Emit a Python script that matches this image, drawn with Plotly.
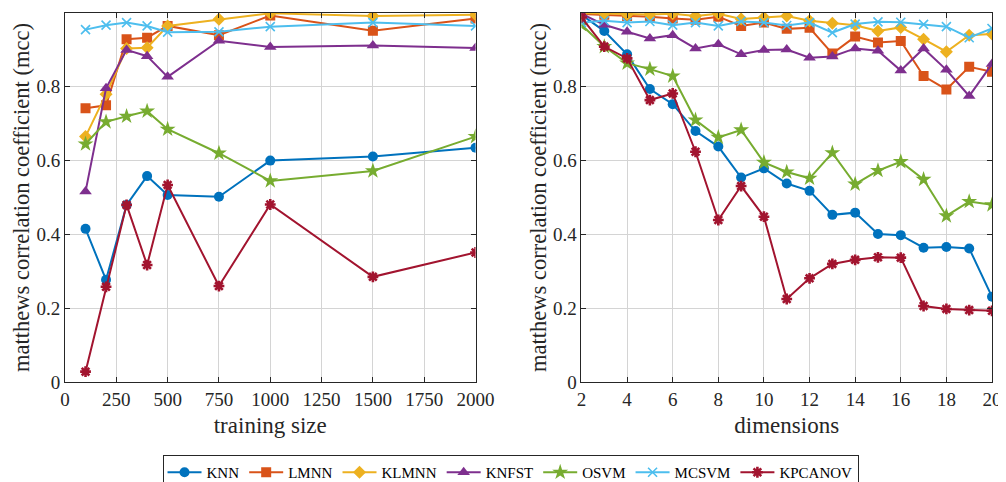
import plotly.graph_objects as go
from plotly.subplots import make_subplots

names = ["KNN", "LMNN", "KLMNN", "KNFST", "OSVM", "MCSVM", "KPCANOV"]
colors = ["#0072BD", "#D95319", "#EDB120", "#7E2F8E", "#77AC30", "#4DBEEE", "#A2142F"]
symbols = ["circle", "square", "diamond", "triangle-up", "star", "x-thin-open", "asterisk-open"]

train_sizes = [100, 200, 300, 400, 500, 750, 1000, 1500, 2000]
left_vals = {
    "KNN":     [0.415, 0.277, 0.480, 0.558, 0.507, 0.502, 0.600, 0.611, 0.635],
    "LMNN":    [0.742, 0.750, 0.929, 0.933, 0.965, 0.940, 0.993, 0.952, 0.985],
    "KLMNN":   [0.665, 0.780, 0.904, 0.906, 0.965, 0.983, 0.999, 0.992, 0.995],
    "KNFST":   [0.516, 0.796, 0.900, 0.883, 0.827, 0.925, 0.908, 0.912, 0.905],
    "OSVM":    [0.645, 0.705, 0.720, 0.734, 0.685, 0.620, 0.545, 0.572, 0.665],
    "MCSVM":   [0.955, 0.967, 0.974, 0.965, 0.948, 0.949, 0.963, 0.974, 0.965],
    "KPCANOV": [0.028, 0.258, 0.480, 0.317, 0.534, 0.260, 0.481, 0.285, 0.351],
}

dims = list(range(2, 21))
right_vals = {
    "KNN":     [0.995, 0.951, 0.888, 0.794, 0.753, 0.680, 0.638, 0.554, 0.579, 0.538,
                0.518, 0.453, 0.459, 0.401, 0.398, 0.364, 0.366, 0.362, 0.231],
    "LMNN":    [0.997, 0.995, 0.992, 0.990, 0.985, 0.982, 0.990, 0.965, 0.974, 0.957,
                0.960, 0.890, 0.936, 0.920, 0.924, 0.829, 0.793, 0.854, 0.841],
    "KLMNN":   [1.000, 0.999, 0.996, 0.996, 0.998, 0.992, 0.998, 0.984, 0.988, 0.992,
                0.979, 0.972, 0.967, 0.951, 0.961, 0.929, 0.895, 0.940, 0.943],
    "KNFST":   [0.998, 0.968, 0.949, 0.931, 0.940, 0.904, 0.915, 0.888, 0.900, 0.901,
                0.879, 0.882, 0.904, 0.898, 0.844, 0.904, 0.846, 0.775, 0.862],
    "OSVM":    [0.968, 0.909, 0.864, 0.848, 0.829, 0.710, 0.663, 0.683, 0.595, 0.569,
                0.552, 0.621, 0.536, 0.573, 0.597, 0.549, 0.450, 0.489, 0.480],
    "MCSVM":   [0.974, 0.979, 0.974, 0.977, 0.967, 0.974, 0.965, 0.977, 0.974, 0.966,
                0.974, 0.947, 0.970, 0.976, 0.975, 0.969, 0.963, 0.933, 0.958],
    "KPCANOV": [0.988, 0.909, 0.877, 0.764, 0.782, 0.624, 0.439, 0.531, 0.448, 0.225,
                0.281, 0.320, 0.331, 0.338, 0.337, 0.206, 0.198, 0.195, 0.193],
}

left_xticks = [0, 250, 500, 750, 1000, 1250, 1500, 1750, 2000]
right_xticks = [2, 4, 6, 8, 10, 12, 14, 16, 18, 20]
yticks = [0, 0.2, 0.4, 0.6, 0.8, 1]
ytick_text = ["0", "0.2", "0.4", "0.6", "0.8", "1"]

SERIF = "Liberation Serif, Times New Roman, serif"
TXT = "#262626"

fig = make_subplots(rows=1, cols=2, horizontal_spacing=0.1143)

def marker_for(i):
    sym = symbols[i]
    if sym == "x-thin-open":
        return dict(symbol=sym, size=9, color=colors[i], line=dict(color=colors[i], width=1.6))
    if sym == "asterisk-open":
        return dict(symbol=sym, size=9, color=colors[i], line=dict(color=colors[i], width=2.6))
    if sym == "star":
        return dict(symbol=sym, size=12, color=colors[i], line=dict(width=0))
    if sym == "triangle-up":
        return dict(symbol=sym, size=11, color=colors[i], line=dict(width=0))
    return dict(symbol=sym, size=10, color=colors[i], line=dict(width=0))

for i, n in enumerate(names):
    fig.add_trace(go.Scatter(x=train_sizes, y=left_vals[n], mode="lines+markers", name=n,
                             line=dict(color=colors[i], width=2), marker=marker_for(i),
                             legendgroup=n, showlegend=True), row=1, col=1)
    fig.add_trace(go.Scatter(x=dims, y=right_vals[n], mode="lines+markers", name=n,
                             line=dict(color=colors[i], width=2), marker=marker_for(i),
                             legendgroup=n, showlegend=False), row=1, col=2)

axis_common = dict(showline=True, linecolor=TXT, linewidth=1, mirror="allticks",
                   ticks="inside", ticklen=5, tickcolor=TXT, automargin=False,
                   showgrid=True, gridcolor="#d4d4d4", gridwidth=1, zeroline=False,
                   tickfont=dict(family=SERIF, size=19, color=TXT))

fig.update_xaxes(**axis_common)
fig.update_yaxes(**axis_common)
fig.update_xaxes(range=[0, 2000], tickvals=left_xticks,
                 title=dict(text="training size", font=dict(family=SERIF, size=23, color=TXT), standoff=8),
                 row=1, col=1)
fig.update_xaxes(range=[2, 20], tickvals=right_xticks,
                 title=dict(text="dimensions", font=dict(family=SERIF, size=23, color=TXT), standoff=8),
                 row=1, col=2)
for c in (1, 2):
    fig.update_yaxes(range=[0, 1], tickvals=yticks, ticktext=ytick_text,
                     title=dict(text="matthews correlation coefficient (mcc)",
                                font=dict(family=SERIF, size=22.5, color=TXT), standoff=0),
                     row=1, col=c)

# page body has an 8px margin: the figure is drawn from (8, 8)
fig.update_layout(
    width=998, height=474,
    margin=dict(l=57, r=14, t=5, b=100, autoexpand=False),
    paper_bgcolor="white", plot_bgcolor="white",
    font=dict(family=SERIF, color=TXT),
    legend=dict(orientation="h", x=0.4806, xanchor="center", y=-0.1978, yanchor="top",
                bordercolor=TXT, borderwidth=1, bgcolor="white",
                font=dict(family=SERIF, size=15, color="#000000"),
                itemwidth=34, tracegroupgap=0),
)

fig.write_html("out.html")
